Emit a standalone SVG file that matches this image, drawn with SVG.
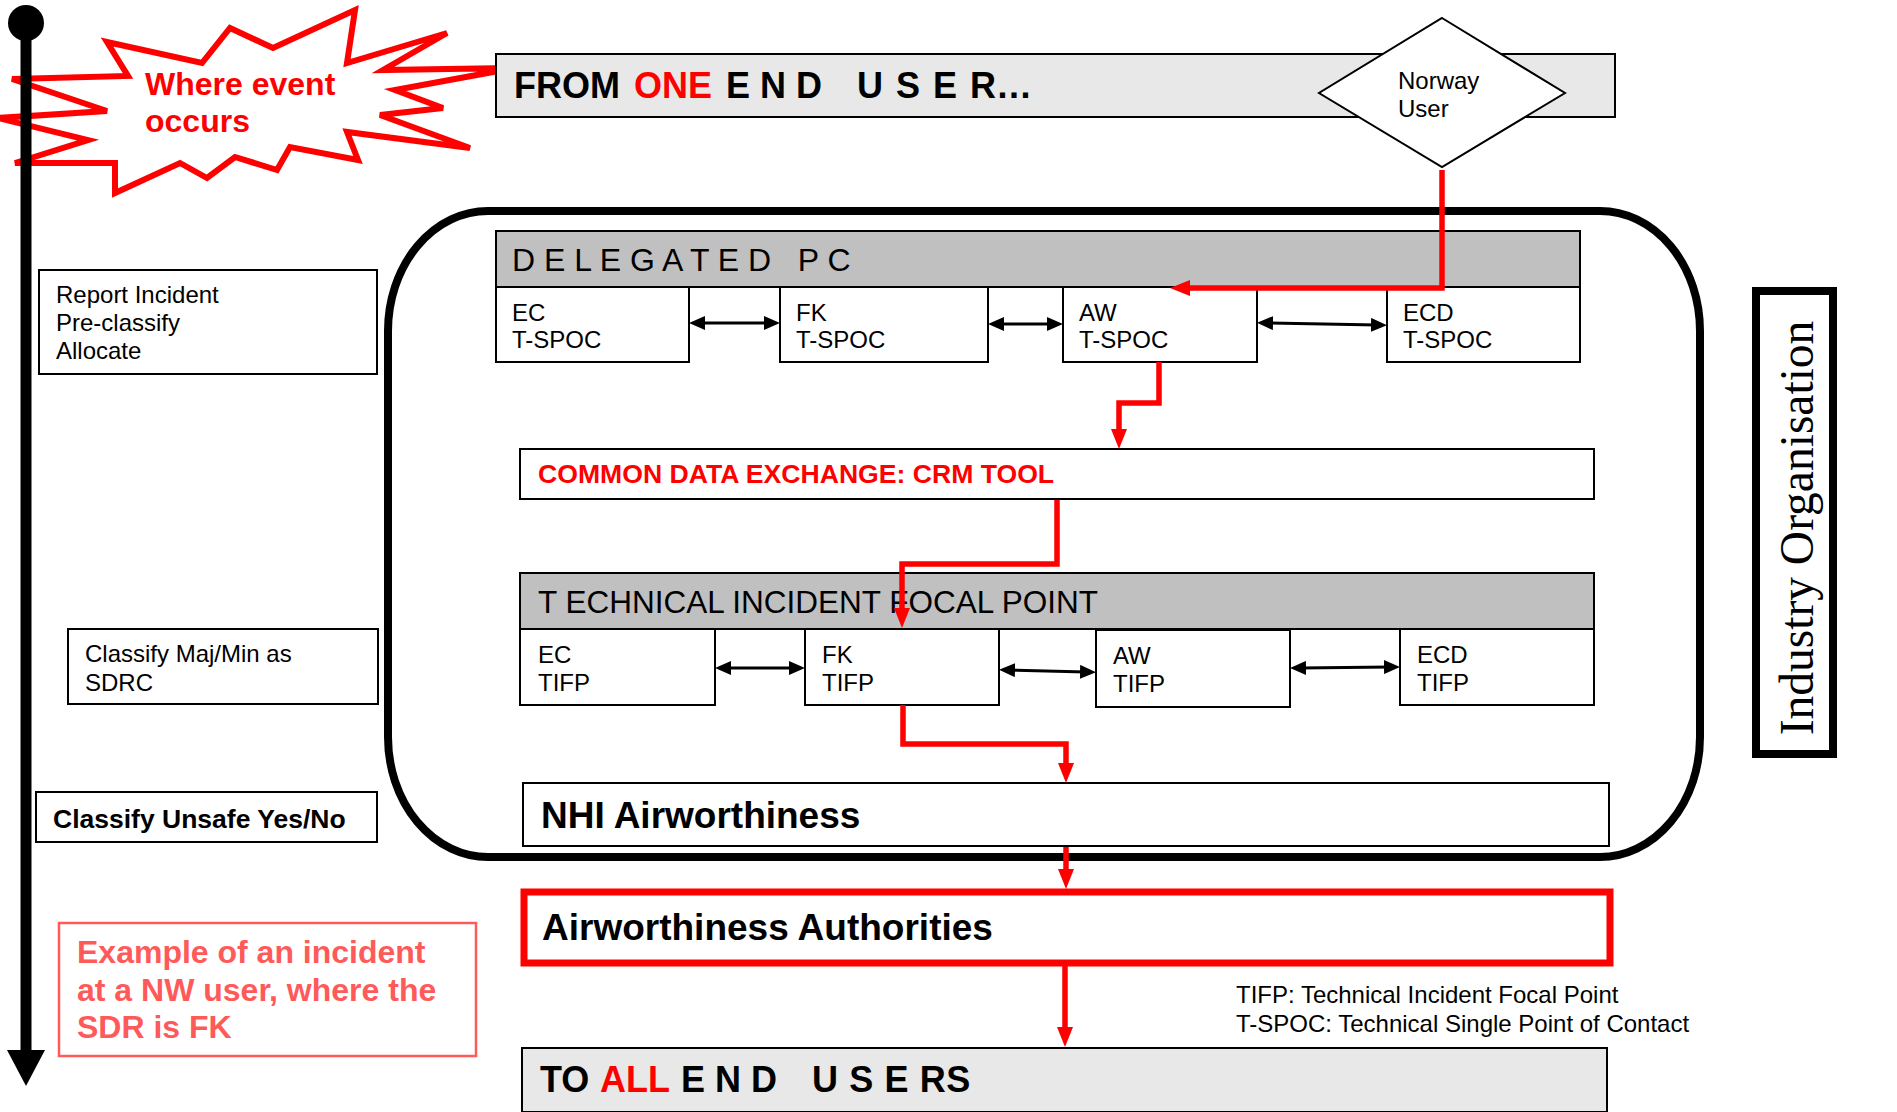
<svg xmlns="http://www.w3.org/2000/svg" width="1897" height="1112" viewBox="0 0 1897 1112">
<style>
.box{fill:#fff;stroke:#000;stroke-width:2}
.band{fill:#e8e8e8;stroke:#000;stroke-width:2}
.hdr{fill:#c0c0c0;stroke:#000;stroke-width:2}
.t{font-family:"Liberation Sans",Arial,sans-serif;fill:#000}
.b{font-family:"Liberation Sans",Arial,sans-serif;font-weight:bold;fill:#000}
.r{fill:#f00}
.note{fill:#ff5a5a}
.red{fill:none;stroke:#f00;stroke-width:5.5;marker-end:url(#ra)}
.dbl{fill:none;stroke:#000;stroke-width:3;marker-start:url(#ba);marker-end:url(#ba)}
</style>
<defs>
<marker id="ra" markerUnits="userSpaceOnUse" markerWidth="20" markerHeight="16" refX="8" refY="8" orient="auto"><path d="M0,0 L20,8 L0,16 z" fill="#f00"/></marker>
<marker id="ba" markerUnits="userSpaceOnUse" markerWidth="16" markerHeight="14" refX="6" refY="7" orient="auto-start-reverse"><path d="M0,0 L16,7 L0,14 z" fill="#000"/></marker>
<marker id="ta" markerUnits="userSpaceOnUse" markerWidth="38" markerHeight="38" refX="2" refY="19" orient="auto"><path d="M0,0 L36,19 L0,38 z" fill="#000"/></marker>
</defs>

<g id="event-star">
<polygon points="12,79 128,76 107,42 202,63 230,28 273,48 355,10 347,63 447,33 383,70 515,68 395,90 443,108 380,115 470,148 347,132 358,160 290,147 277,170 235,157 207,178 180,163 115,193 115,163 15,163 88,140 -2,118 107,111" fill="#fff" stroke="#f00" stroke-width="6" stroke-linejoin="miter"/>
<text class="b r" font-size="32" x="145" y="95">Where event</text>
<text class="b r" font-size="32" x="145" y="132">occurs</text>
</g>

<g id="timeline">
<circle cx="26" cy="23" r="18" fill="#000"/>
<path d="M26,23 V1052" stroke="#000" stroke-width="11" fill="none" marker-end="url(#ta)"/>
</g>

<g id="from-end-user">
<rect class="band" x="496" y="54" width="1119" height="63"/>
<text class="b" font-size="36" y="98"><tspan x="514">FROM</tspan><tspan x="634" fill="#f00">ONE</tspan><tspan x="726">E N D</tspan><tspan x="857" letter-spacing="1.5">U S E R...</tspan></text>
</g>

<g id="norway-user">
<polygon points="1442,18 1565,93 1442,167 1319,93" fill="#fff" stroke="#000" stroke-width="2"/>
<text class="t" font-size="24" x="1398" y="89">Norway</text>
<text class="t" font-size="24" x="1398" y="117">User</text>
</g>

<g id="industry-container">
<rect x="388" y="211" width="1312" height="646" rx="100" ry="120" fill="none" stroke="#000" stroke-width="8"/>
</g>

<g id="delegated-pc">
<rect class="hdr" x="496" y="231" width="1084" height="56"/>
<text class="t" font-size="32" x="512" y="271" xml:space="preserve">D E L E G A T E D   P C</text>
</g>
<g id="ec-tspoc"><rect class="box" x="496" y="287" width="193" height="75"/><text class="t" font-size="24" x="512" y="321">EC</text><text class="t" font-size="24" x="512" y="348">T-SPOC</text></g>
<g id="fk-tspoc"><rect class="box" x="780" y="287" width="208" height="75"/><text class="t" font-size="24" x="796" y="321">FK</text><text class="t" font-size="24" x="796" y="348">T-SPOC</text></g>
<g id="aw-tspoc"><rect class="box" x="1063" y="287" width="194" height="75"/><text class="t" font-size="24" x="1079" y="321">AW</text><text class="t" font-size="24" x="1079" y="348">T-SPOC</text></g>
<g id="ecd-tspoc"><rect class="box" x="1387" y="287" width="193" height="75"/><text class="t" font-size="24" x="1403" y="321">ECD</text><text class="t" font-size="24" x="1403" y="348">T-SPOC</text></g>

<g id="crm-tool">
<rect class="box" x="520" y="449" width="1074" height="50"/>
<text class="b r" font-size="26.6" x="538" y="483">COMMON DATA EXCHANGE: CRM TOOL</text>
</g>

<g id="tifp-header">
<rect class="hdr" x="520" y="573" width="1074" height="56"/>
<text class="t" font-size="31.5" x="538" y="613">T ECHNICAL INCIDENT FOCAL POINT</text>
</g>
<g id="ec-tifp"><rect class="box" x="520" y="629" width="195" height="76"/><text class="t" font-size="24" x="538" y="663">EC</text><text class="t" font-size="24" x="538" y="691">TIFP</text></g>
<g id="fk-tifp"><rect class="box" x="805" y="629" width="194" height="76"/><text class="t" font-size="24" x="822" y="663">FK</text><text class="t" font-size="24" x="822" y="691">TIFP</text></g>
<g id="aw-tifp"><rect class="box" x="1096" y="630" width="194" height="77"/><text class="t" font-size="24" x="1113" y="664">AW</text><text class="t" font-size="24" x="1113" y="692">TIFP</text></g>
<g id="ecd-tifp"><rect class="box" x="1400" y="629" width="194" height="76"/><text class="t" font-size="24" x="1417" y="663">ECD</text><text class="t" font-size="24" x="1417" y="691">TIFP</text></g>

<g id="nhi-airworthiness">
<rect class="box" x="523" y="783" width="1086" height="63"/>
<text class="b" font-size="37" x="541" y="828">NHI Airworthiness</text>
</g>

<g id="airworthiness-authorities">
<rect x="524" y="892" width="1086" height="71" fill="#fff" stroke="#f00" stroke-width="7"/>
<text class="b" font-size="37" x="542" y="940">Airworthiness Authorities</text>
</g>

<g id="to-all-end-users">
<rect class="band" x="522" y="1048" width="1085" height="64"/>
<text class="b" font-size="36" y="1092"><tspan x="540">TO</tspan><tspan x="600" fill="#f00">ALL</tspan><tspan x="681">E N D</tspan><tspan x="812" letter-spacing="0.6">U S E RS</tspan></text>
</g>

<g id="legend">
<text class="t" font-size="24" x="1236" y="1003">TIFP: Technical Incident Focal Point</text>
<text class="t" font-size="24" x="1236" y="1032">T-SPOC: Technical Single Point of Contact</text>
</g>

<g id="report-incident"><rect class="box" x="39" y="270" width="338" height="104"/><text class="t" font-size="24" x="56" y="303">Report Incident</text><text class="t" font-size="24" x="56" y="331">Pre-classify</text><text class="t" font-size="24" x="56" y="359">Allocate</text></g>
<g id="classify-majmin"><rect class="box" x="68" y="629" width="310" height="75"/><text class="t" font-size="24" x="85" y="662">Classify Maj/Min as</text><text class="t" font-size="24" x="85" y="691">SDRC</text></g>
<g id="classify-unsafe"><rect class="box" x="36" y="792" width="341" height="50"/><text class="b" font-size="26.5" x="53" y="828">Classify Unsafe Yes/No</text></g>

<g id="example-note">
<rect x="59" y="923" width="417" height="133" fill="#fff" stroke="#ff5a5a" stroke-width="2.5"/>
<text class="b note" font-size="32" x="77" y="963">Example of an incident</text>
<text class="b note" font-size="32" x="77" y="1001">at a NW user, where the</text>
<text class="b note" font-size="32" x="77" y="1038">SDR is FK</text>
</g>

<g id="industry-organisation">
<rect x="1756" y="291" width="77" height="463" fill="#fff" stroke="#000" stroke-width="8"/>
<text x="1813" y="528" transform="rotate(-90 1813 528)" text-anchor="middle" font-family="'Liberation Serif','Times New Roman',serif" font-size="47.5" fill="#000">Industry Organisation</text>
</g>

<g id="connectors">
<path class="red" d="M1442,170 V288 H1182"/>
<path class="red" d="M1159,362 V403 H1119 V437"/>
<path class="red" d="M1057,500 V564 H902 V616"/>
<path class="red" d="M903,705 V744 H1066 V771"/>
<path class="red" d="M1066,847 V877"/>
<path class="red" d="M1065,966 V1035"/>
<path class="dbl" d="M699,323 H770"/>
<path class="dbl" d="M998,324 H1053"/>
<path class="dbl" d="M1267,323 L1377,325"/>
<path class="dbl" d="M725,668 H795"/>
<path class="dbl" d="M1009,670 L1086,672"/>
<path class="dbl" d="M1300,668 L1390,667"/>
</g>
</svg>
